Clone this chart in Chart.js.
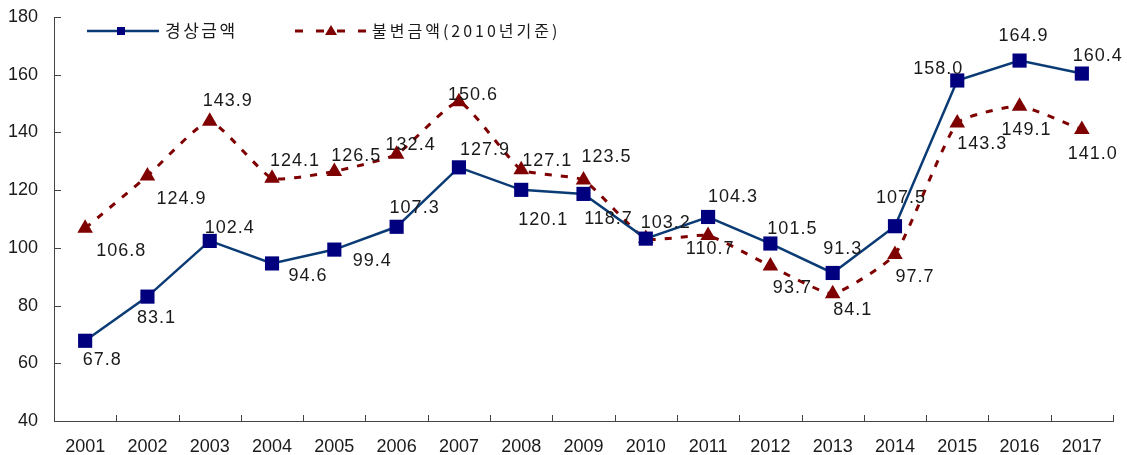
<!DOCTYPE html>
<html>
<head>
<meta charset="utf-8">
<script src="https://cdn.jsdelivr.net/npm/chart.js@4"></script>
<style>
  body { margin: 0; background: #fff; }
  #chart { display: block; }
</style>
</head>
<body>
<canvas id="chart" width="1127" height="455"></canvas>
<script>
const years = ["2001", "2002", "2003", "2004", "2005", "2006", "2007", "2008", "2009",
  "2010", "2011", "2012", "2013", "2014", "2015", "2016", "2017"];

// 경상금액 (current prices)
const nominal = [67.8, 83.1, 102.4, 94.6, 99.4, 107.3, 127.9, 120.1, 118.7,
  103.2, 110.7, 101.5, 91.3, 107.5, 158.0, 164.9, 160.4];
// 불변금액 (2010 constant prices)
const real = [106.8, 124.9, 143.9, 124.1, 126.5, 132.4, 150.6, 127.1, 123.5,
  103.2, 104.3, 93.7, 84.1, 97.7, 143.3, 149.1, 141.0];

// label texts as printed on the original (2011 labels are swapped there)
const nominalLabels = ["67.8", "83.1", "102.4", "94.6", "99.4", "107.3", "127.9", "120.1", "118.7",
  "103.2", "104.3", "101.5", "91.3", "107.5", "158.0", "164.9", "160.4"];
const realLabels = ["106.8", "124.9", "143.9", "124.1", "126.5", "132.4", "150.6", "127.1", "123.5",
  "", "110.7", "93.7", "84.1", "97.7", "143.3", "149.1", "141.0"];

const yTicks = { min: 40, max: 180, step: 20 };

// label placement, pixels from the point (dx, dy)
const nominalOffsets = [[17, 19], [9, 21], [20, -13], [36, 13], [38, 11], [18, -19], [26, -17], [22, 30], [25, 25],
  [20, -16], [25, -20], [22, -14], [10, -24], [6, -28], [-19, -11], [4, -25], [16, -18]];
const realOffsets = [[36, 23], [34, 23], [18, -20], [23, -17], [22, -15], [14, -9], [14, -7], [26, -9], [23, -23],
  [0, 0], [2, 14], [22, 22], [20, 16], [20, 23], [25, 21], [7, 24], [11, 24]];

const NUM_FONT = '"Liberation Sans", Arial, sans-serif';
const KR_FONT = '"Noto Sans CJK KR", "Noto Sans", sans-serif';
const AXIS_COLOR = "#444";

const blueLine = "#0b3b74";
const bluePoint = "#00007f";
const redColor = "#7f0000";

// inner tick marks on both axes
const innerTicks = {
  id: "innerTicks",
  afterDraw(chart) {
    const { ctx, chartArea, scales } = chart;
    ctx.save();
    ctx.strokeStyle = AXIS_COLOR;
    ctx.lineWidth = 1;
    ctx.beginPath();
    for (let v = yTicks.min; v <= yTicks.max; v += yTicks.step) {
      const y = Math.round(scales.y.getPixelForValue(v)) + 0.5;
      ctx.moveTo(chartArea.left, y);
      ctx.lineTo(chartArea.left + 7, y);
    }
    const w = (chartArea.right - chartArea.left) / years.length;
    for (let i = 1; i <= years.length; i++) {
      const x = Math.round(chartArea.left + i * w) + 0.5;
      ctx.moveTo(x, chartArea.bottom);
      ctx.lineTo(x, chartArea.bottom - 6);
    }
    ctx.stroke();
    ctx.restore();
  },
};

// value labels next to each point
const valueLabels = {
  id: "valueLabels",
  afterDatasetsDraw(chart) {
    const { ctx } = chart;
    ctx.save();
    ctx.font = "18px " + NUM_FONT;
    ctx.fillStyle = "#1a1a1a";
    ctx.textAlign = "center";
    ctx.textBaseline = "middle";
    if ("letterSpacing" in ctx) ctx.letterSpacing = "1px";
    const sets = [[nominalLabels, nominalOffsets], [realLabels, realOffsets]];
    sets.forEach(([texts, offs], di) => {
      const meta = chart.getDatasetMeta(di);
      meta.data.forEach((pt, i) => {
        if (!texts[i]) return;
        ctx.fillText(texts[i], pt.x + offs[i][0], pt.y + offs[i][1]);
      });
    });
    ctx.restore();
  },
};

// legend with line + marker, drawn in the top-left of the plot
const lineLegend = {
  id: "lineLegend",
  afterDraw(chart) {
    const { ctx } = chart;
    const ds = chart.data.datasets;
    ctx.save();
    const y = 31;

    // 경상금액
    ctx.strokeStyle = blueLine;
    ctx.lineWidth = 2.5;
    ctx.beginPath();
    ctx.moveTo(87, y);
    ctx.lineTo(159, y);
    ctx.stroke();
    ctx.fillStyle = bluePoint;
    ctx.fillRect(117, y - 4, 8, 8);

    // 불변금액
    ctx.strokeStyle = redColor;
    ctx.lineWidth = 3;
    ctx.setLineDash([8, 13]);
    ctx.beginPath();
    ctx.moveTo(295, y);
    ctx.lineTo(368, y);
    ctx.stroke();
    ctx.setLineDash([]);
    ctx.fillStyle = redColor;
    ctx.beginPath();
    ctx.moveTo(331, y - 6);
    ctx.lineTo(337, y + 4);
    ctx.lineTo(325, y + 4);
    ctx.closePath();
    ctx.fill();

    ctx.fillStyle = "#1a1a1a";
    ctx.font = "17px " + KR_FONT;
    ctx.textBaseline = "middle";
    ctx.textAlign = "left";
    if ("letterSpacing" in ctx) ctx.letterSpacing = "2.5px";
    ctx.fillText(ds[0].label, 165, y);
    ctx.font = "16px " + KR_FONT;
    ctx.letterSpacing = "3px";
    ctx.fillText(ds[1].label, 372, y);
    ctx.restore();
  },
};

const ctx = document.getElementById("chart").getContext("2d");
new Chart(ctx, {
  type: "line",
  data: {
    labels: years,
    datasets: [
      {
        label: "경상금액",
        data: nominal,
        borderColor: blueLine,
        borderWidth: 2.5,
        pointStyle: "rect",
        pointRadius: 10,
        pointBackgroundColor: bluePoint,
        pointBorderColor: bluePoint,
        pointBorderWidth: 0,
        tension: 0,
      },
      {
        label: "불변금액(2010년기준)",
        data: real,
        borderColor: redColor,
        borderWidth: 3,
        borderDash: [7, 9],
        pointStyle: "triangle",
        pointRadius: 9,
        pointBackgroundColor: redColor,
        pointBorderColor: redColor,
        pointBorderWidth: 0,
        tension: 0.15,
      },
    ],
  },
  options: {
    responsive: false,
    animation: false,
    layout: { padding: { top: 17, right: 14, left: 0, bottom: 0 } },
    plugins: {
      legend: { display: false },
      tooltip: { enabled: false },
    },
    scales: {
      x: {
        offset: true,
        grid: { display: false, drawTicks: false },
        border: { color: AXIS_COLOR, width: 1 },
        ticks: {
          color: "#1a1a1a",
          font: { family: NUM_FONT, size: 18 },
          padding: 15,
          maxRotation: 0,
        },
        afterFit: (scale) => {
          scale.height = 34;
          scale.paddingLeft = 0;
          scale.paddingRight = 0;
        },
      },
      y: {
        min: yTicks.min,
        max: yTicks.max,
        grid: { display: false, drawTicks: false },
        border: { color: AXIS_COLOR, width: 1 },
        ticks: {
          stepSize: yTicks.step,
          color: "#1a1a1a",
          font: { family: NUM_FONT, size: 18 },
          padding: 16,
        },
        afterFit: (scale) => {
          scale.width = 54;
          scale.paddingTop = 0;
          scale.paddingBottom = 0;
        },
      },
    },
  },
  plugins: [innerTicks, valueLabels, lineLegend],
});
</script>
</body>
</html>
